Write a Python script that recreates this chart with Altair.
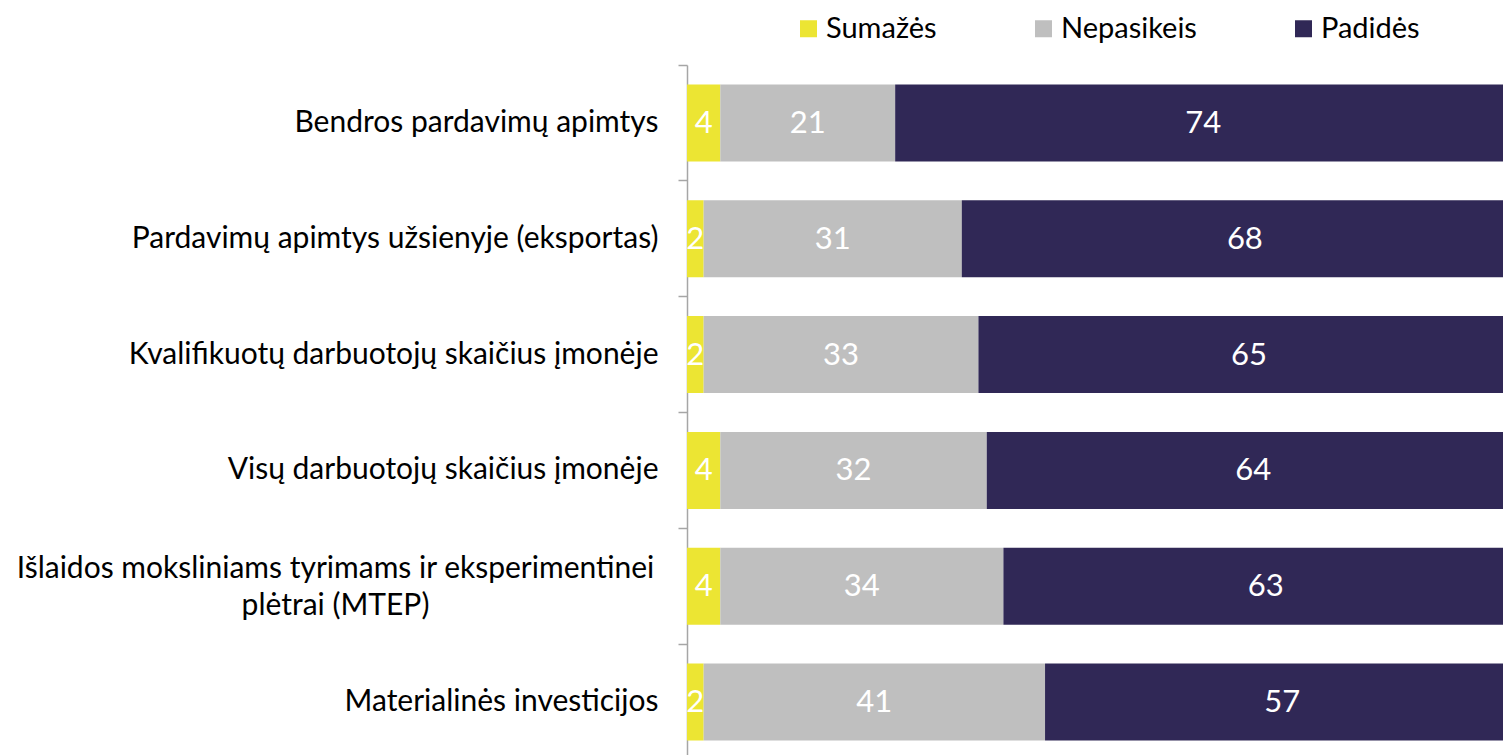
import altair as alt
import pandas as pd

categories = [
    "Bendros pardavimų apimtys",
    "Pardavimų apimtys užsienyje (eksportas)",
    "Kvalifikuotų darbuotojų skaičius įmonėje",
    "Visų darbuotojų skaičius įmonėje",
    "Išlaidos moksliniams tyrimams ir eksperimentinei plėtrai (MTEP)",
    "Materialinės investicijos",
]
series = ["Sumažės", "Nepasikeis", "Padidės"]
sumazes = [4, 2, 2, 4, 4, 2]
nepasikeis = [21, 31, 33, 32, 34, 41]
padides = [74, 68, 65, 64, 63, 57]
colors = ["#ECE533", "#BFBFBF", "#302856"]

rows = []
for i, cat in enumerate(categories):
    start = 0
    for k, (name, vals) in enumerate(zip(series, [sumazes, nepasikeis, padides])):
        v = vals[i]
        rows.append({"cat": cat, "series": name, "order": k, "value": v,
                     "start": start, "end": start + v, "mid": start + v / 2})
        start += v
df = pd.DataFrame(rows)

mtep = categories[4]
label_expr = (f"datum.label == '{mtep}' ? "
              "['Išlaidos moksliniams tyrimams ir eksperimentinei', 'plėtrai (MTEP)'] : datum.label")
is_mtep = f"datum.value == '{mtep}'"

y_enc = alt.Y(
    "cat:N",
    sort=categories,
    title=None,
    scale=alt.Scale(domain=categories, range=[0, 695], paddingInner=0, paddingOuter=0),
    axis=alt.Axis(
        bandPosition=0,
        labelExpr=label_expr,
        labelFont="Lato",
        labelFontSize=30,
        labelColor="#000000",
        labelLineHeight=37,
        labelAlign={"condition": {"test": is_mtep, "value": "center"}, "value": "right"},
        labelPadding={"condition": {"test": is_mtep, "value": 343}, "value": 20},
        labelOffset={"condition": {"test": is_mtep, "value": -17}, "value": 0},
        labelLimit=1000,
        domainColor="#A6A6A6",
        domainWidth=1.5,
        tickColor="#A6A6A6",
        tickWidth=1.5,
        tickSize=9,
        grid=False,
    ),
)

x_scale = alt.Scale(domain=[0, 98], nice=False, zero=True)

bars = alt.Chart(df).mark_bar(clip=True, size=77, strokeWidth=0).encode(
    x=alt.X("start:Q", scale=x_scale, axis=None),
    x2="end:Q",
    y=y_enc,
    color=alt.Color(
        "series:N",
        sort=series,
        scale=alt.Scale(domain=series, range=colors),
        legend=alt.Legend(
            title=None,
            orient="none",
            direction="horizontal",
            legendX=107,
            legendY=-51,
            symbolType="square",
            symbolSize=289,
            symbolStrokeWidth=0,
            symbolOpacity=1,
            labelFont="Lato",
            labelFontSize=29,
            labelColor="#000000",
            labelOffset=3,
            columnPadding=92,
            padding=0,
        ),
    ),
    order=alt.Order("order:Q"),
)

labels = alt.Chart(df).mark_text(
    color="white", font="Lato", fontSize=31, align="center", baseline="middle", dy=1
).encode(
    x=alt.X("mid:Q", scale=x_scale, axis=None),
    y=alt.Y("cat:N", sort=categories),
    text="value:Q",
)

chart = alt.layer(bars, labels).properties(
    width=816,
    height=690,
    autosize=alt.AutoSizeParams(type="none"),
    padding={"left": 679, "top": 57, "right": 0, "bottom": 0},
).configure_view(stroke=None)

chart.save("out.html", embed_options={"renderer": "svg", "actions": False})
